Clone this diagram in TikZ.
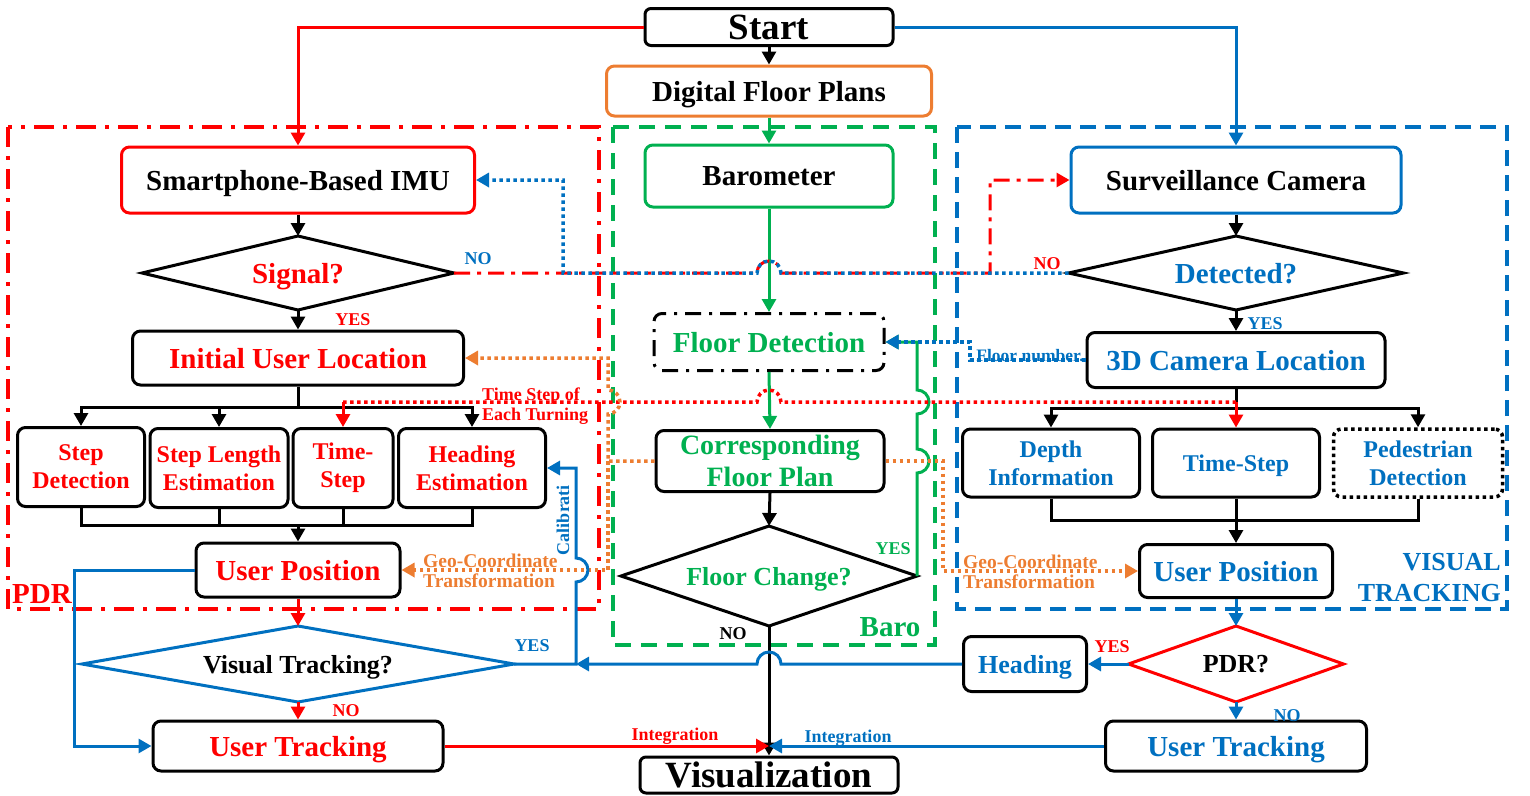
\documentclass[tikz,border=0pt]{standalone}
\usepackage{fontspec}
\setmainfont{Liberation Serif}
\usetikzlibrary{arrows.meta,shapes.geometric}

\definecolor{cred}{HTML}{FF0000}
\definecolor{cblue}{HTML}{0070C0}
\definecolor{cgreen}{HTML}{00B050}
\definecolor{corange}{HTML}{ED7D31}

\newcommand{\szstart}{\fontsize{37}{40}\selectfont}
\newcommand{\szmain}{\fontsize{29}{32}\selectfont}
\newcommand{\szmid}{\fontsize{26}{31}\selectfont}
\newcommand{\szsub}{\fontsize{24}{28}\selectfont}
\newcommand{\szlab}{\fontsize{18}{20}\selectfont}

\tikzset{
  bx/.style={draw, rounded corners=8pt, line width=3pt, align=center, inner sep=0pt, text depth=0pt, font=\bfseries\szmain},
  two/.style={text depth={}},
  dmd/.style={draw, diamond, aspect=5, inner sep=0pt, outer sep=0pt, line width=3pt, align=center, text depth=0pt, font=\bfseries\szmain},
  ln/.style={line width=3pt},
  arr/.style={-{Triangle[length=13pt,width=14pt]}},
  dotln/.style={line width=3.5pt, dash pattern=on 3.5pt off 3.5pt},
  dashdotln/.style={line width=3pt, dash pattern=on 16pt off 7pt on 4pt off 7pt},
  lab/.style={font=\bfseries\szlab, inner sep=0pt},
  grp/.style={line width=3.5pt},
}

\begin{document}
\begin{tikzpicture}[x=1pt, y=-1pt]
  \useasboundingbox (0,0) rectangle (1530,795);

  % group frames
  \draw[grp, cred, dash pattern=on 20pt off 9pt on 4pt off 9pt] (8,127) rectangle (599,609);
  \draw[grp, cgreen, dash pattern=on 16pt off 10pt] (613,127) rectangle (935,645);
  \draw[grp, cblue, dash pattern=on 16pt off 9pt] (957,127) rectangle (1507,609);
  \node[cred, font=\bfseries\szmain, inner sep=0pt] (pdrlab) at (42,594) {PDR};
  \node[cgreen, font=\bfseries\szmain, inner sep=0pt] (barolab) at (890,627) {Baro};
  \node[cblue, font=\bfseries\szmid, align=right, anchor=east, inner sep=0pt] (vislab) at (1501,578) {VISUAL\\TRACKING};

  % top
  \node[bx, font=\bfseries\szstart, rounded corners=6pt, minimum width=248pt, minimum height=37pt] (start) at (769,27) {Start};
  \node[bx, corange, text=black, minimum width=325pt, minimum height=50pt] (dfp) at (769,91) {Digital Floor Plans};

  % sources
  \node[bx, cred, text=black, minimum width=353pt, minimum height=66pt] (imu) at (298,180) {Smartphone-Based IMU};
  \node[bx, cgreen, text=black, minimum width=248pt, minimum height=62pt] (baro) at (769,176) {Barometer};
  \node[bx, cblue, text=black, minimum width=330pt, minimum height=66pt] (cam) at (1236,180) {Surveillance Camera};

  % checks
  \node[dmd, text=cred, minimum width=312pt, minimum height=74pt] (sig) at (298,273) {Signal?};
  \node[dmd, text=cblue, minimum width=335pt, minimum height=74pt] (det) at (1236,273) {Detected?};

  % locations
  \node[bx, text=cred, minimum width=331pt, minimum height=54pt] (iul) at (298,358) {Initial User Location};
  \node[bx, text=cgreen, dash pattern=on 16pt off 8pt on 3pt off 8pt, minimum width=230pt, minimum height=57pt] (fd) at (769,342) {Floor Detection};
  \node[bx, text=cblue, minimum width=298pt, minimum height=55pt] (cam3d) at (1236,360) {3D Camera Location};

  % PDR steps
  \node[bx, two, text=cred, font=\bfseries\szsub, minimum width=127pt, minimum height=79pt] (sd) at (81,467) {Step\\Detection};
  \node[bx, two, text=cred, font=\bfseries\szsub, minimum width=138pt, minimum height=79pt] (sle) at (219,468) {Step Length\\Estimation};
  \node[bx, two, text=cred, font=\bfseries\szsub, minimum width=100pt, minimum height=79pt] (ts1) at (343,468) {Time-\\Step};
  \node[bx, two, text=cred, font=\bfseries\szsub, minimum width=147pt, minimum height=79pt] (he) at (472,468) {Heading\\Estimation};

  % baro steps
  \node[bx, two, text=cgreen, font=\bfseries\fontsize{28}{32}\selectfont, minimum width=228pt, minimum height=61pt] (cfp) at (770,461) {Corresponding\\Floor Plan};
  \node[dmd, text=cgreen, font=\bfseries\szmid, minimum width=296pt, minimum height=100pt] (fc) at (769,576) {Floor Change?};

  % visual steps
  \node[bx, two, text=cblue, font=\bfseries\szsub, minimum width=177pt, minimum height=68pt] (di) at (1051,463) {Depth\\Information};
  \node[bx, text=cblue, font=\bfseries\szsub, minimum width=167pt, minimum height=68pt] (ts2) at (1236,463) {Time-Step};
  \node[bx, two, text=cblue, font=\bfseries\szsub, line width=3.5pt, dash pattern=on 3.5pt off 3.5pt, minimum width=169pt, minimum height=68pt] (pd) at (1418,463) {Pedestrian\\Detection};

  % positions
  \node[bx, text=cred, minimum width=204pt, minimum height=54pt] (up1) at (298,570) {User Position};
  \node[bx, text=cblue, minimum width=193pt, minimum height=53pt] (up2) at (1236,571) {User Position};

  % bottom
  \node[dmd, cblue, text=black, font=\bfseries\szmid, minimum width=432pt, minimum height=76pt] (vt) at (298,664) {Visual Tracking?};
  \node[dmd, cred, text=black, font=\bfseries\szmid, minimum width=215pt, minimum height=76pt] (pdrq) at (1236,664) {PDR?};
  \node[bx, text=cblue, font=\bfseries\szmid, minimum width=123pt, minimum height=55pt] (hd) at (1025,664) {Heading};
  \node[bx, text=cred, minimum width=290pt, minimum height=50pt] (ut1) at (298,746) {User Tracking};
  \node[bx, text=cblue, minimum width=261pt, minimum height=50pt] (ut2) at (1236,746) {User Tracking};
  \node[bx, font=\bfseries\szstart, rounded corners=6pt, minimum width=258pt, minimum height=36pt] (vis) at (769,775) {Visualization};

  % junctions
  \coordinate (brl) at (298,407);
  \coordinate (busl) at (298,525);
  \coordinate (brr) at (1236,408);
  \coordinate (busr) at (1236,520);
  \coordinate (tsl) at (343,402);
  \coordinate (tsr) at (1236,402);
  \coordinate (oj) at (608,461);
  \coordinate (vtj) at (576,664);
  \coordinate (vj) at (769,746);

  % from start
  \draw[ln, cred, arr] (start.west) -| (imu.north);
  \draw[ln, cblue, arr] (start.east) -| (cam.north);
  \draw[ln, arr] (start.south) -- (dfp.north);
  \draw[ln, cgreen, arr] (dfp.south) -- (baro.north);

  % PDR column
  \draw[ln, arr] (imu.south) -- (sig.north);
  \draw[ln, arr] (sig.south) -- (iul.north);
  \draw[ln] (iul.south) -- (brl);
  \foreach \nd in {sd,sle,he} \draw[ln, arr] (brl) -| (\nd.north);
  \foreach \nd in {sd,sle,ts1,he} \draw[ln] (\nd.south) |- (busl);
  \draw[ln, arr] (busl) -- (up1.north);
  \draw[ln, cred, arr] (up1.south) -- (vt.north);
  \draw[ln, cred, arr] (vt.south) -- (ut1.north);
  \draw[ln, cblue, arr] (up1.west) -- ++(-120,0) |- (ut1.west);

  % visual column
  \draw[ln, arr] (cam.south) -- (det.north);
  \draw[ln, arr] (det.south) -- (cam3d.north);
  \draw[ln] (cam3d.south) -- (brr);
  \foreach \nd in {di,pd} \draw[ln, arr] (brr) -| (\nd.north);
  \foreach \nd in {di,ts2,pd} \draw[ln] (\nd.south) |- (busr);
  \draw[ln, arr] (busr) -- (up2.north);
  \draw[ln, cblue, arr] (up2.south) -- (pdrq.north);
  \draw[ln, cblue, arr] (pdrq.west) -- (hd.east);
  \draw[ln, cblue, arr] (pdrq.south) -- (ut2.north);

  % baro column
  \draw[ln, cgreen, arr] (baro.south) -- (fd.north);
  \draw[ln, cgreen, arr] (fd.south) -- (cfp.north);
  \draw[ln, arr] (cfp.south) -- (fc.north);
  \draw[ln, cgreen, arr] (fc.east) -- (917,473) arc[start angle=90, end angle=-90, radius=12]
    -- (917,414) arc[start angle=90, end angle=-90, radius=12] -- (917,342) -- (fd.east);
  \draw[ln, arr] (fc.south) -- (vis.north);

  % no signal / not detected
  \draw[dashdotln, cred, arr] (sig.east) -- (757,273) arc[start angle=180, end angle=360, radius=12]
    -- (990,273) -- (990,180) -- (cam.west);
  \draw[dotln, cblue, arr] (det.west) -- (781,273) arc[start angle=0, end angle=-180, radius=12]
    -- (563,273) -- (563,180) -- (imu.east);

  % floor number
  \draw[dotln, cblue, arr] (cam3d.west) -- (970,360) -- (970,342) -- (fd.east);

  % time step of each turning
  \draw[dotln, cred] (tsl) -- (757,402) arc[start angle=180, end angle=360, radius=12] -- (tsr);
  \draw[ln, cred, arr] (tsl) -- (ts1.north);
  \draw[ln, cred, arr] (tsr) -- (ts2.north);

  % geo-coordinate transformation
  \draw[dotln, corange, arr] (cfp.west) -- (oj) -- (608,414) arc[start angle=90, end angle=-90, radius=12]
    -- (608,358) -- (iul.east);
  \draw[dotln, corange, arr] (oj) -- (608,570) -- (up1.east);
  \draw[dotln, corange, arr] (cfp.east) -- (943,461) -- (943,571) -- (up2.west);

  % calibration
  \draw[ln, cblue, arr] (vt.east) -- (vtj) -- (576,582) arc[start angle=90, end angle=-90, radius=12]
    -- (576,468) -- (he.east);
  \draw[ln, cblue, arr] (hd.west) -- (781,664) arc[start angle=0, end angle=-180, radius=12] -- (vtj);

  % integration
  \draw[ln, cred, arr] (ut1.east) -- (vj);
  \draw[ln, cblue, arr] (ut2.west) -- (vj);

  % labels
  \node[lab, cred] (sigyes) at (353,320) {YES};
  \node[lab, cblue] (signo) at (478,259) {NO};
  \node[lab, cred] (detno) at (1047,264) {NO};
  \node[lab, cblue] (detyes) at (1265,324) {YES};
  \node[lab, cblue, font=\bfseries\fontsize{17.5}{18}\selectfont] (fnum) at (1030,356) {Floor number.};
  \node[lab, cred, align=left, anchor=west] (tslab) at (482,406) {Time Step of\\Each Turning};
  \node[lab, corange, align=left, anchor=west, font=\bfseries\fontsize{19.5}{20}\selectfont] (geol) at (423,571) {Geo-Coordinate\\Transformation};
  \node[lab, corange, align=left, anchor=west, font=\bfseries\fontsize{19.5}{20}\selectfont] (geor) at (963,572) {Geo-Coordinate\\Transformation};
  \node[lab, cblue, rotate=90] (calib) at (563,520) {Calibrati};
  \node[lab, cblue] (vtyes) at (532,646) {YES};
  \node[lab, cred] (vtno) at (346,711) {NO};
  \node[lab, cgreen] (fcyes) at (893,549) {YES};
  \node[lab] (fcno) at (733,634) {NO};
  \node[lab, cred] (pyes) at (1112,647) {YES};
  \node[lab, cblue] (pno) at (1287,716) {NO};
  \node[lab, cred] (intl) at (675,736) {Integration};
  \node[lab, cblue] (intr) at (848,738) {Integration};
\end{tikzpicture}
\end{document}
